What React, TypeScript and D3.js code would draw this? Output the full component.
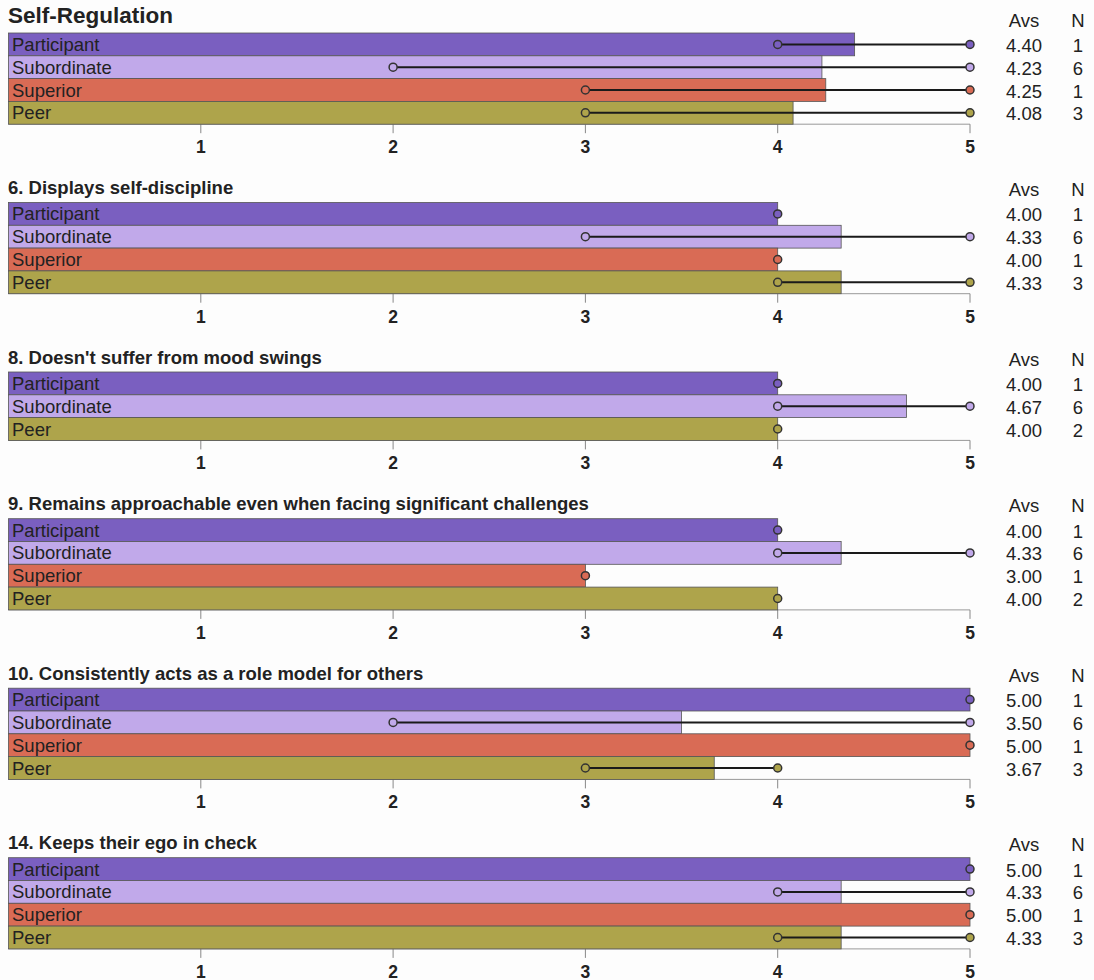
import React from "react";
import * as d3 from "d3";

const panelTitles = [
  "Self-Regulation",
  "6. Displays self-discipline",
  "8. Doesn't suffer from mood swings",
  "9. Remains approachable even when facing significant challenges",
  "10. Consistently acts as a role model for others",
  "14. Keeps their ego in check",
];
const panelGroups = [
  ["Participant", "Subordinate", "Superior", "Peer"],
  ["Participant", "Subordinate", "Superior", "Peer"],
  ["Participant", "Subordinate", "Peer"],
  ["Participant", "Subordinate", "Superior", "Peer"],
  ["Participant", "Subordinate", "Superior", "Peer"],
  ["Participant", "Subordinate", "Superior", "Peer"],
];
const panelAvgs = [
  [4.4, 4.23, 4.25, 4.08],
  [4.0, 4.33, 4.0, 4.33],
  [4.0, 4.67, 4.0],
  [4.0, 4.33, 3.0, 4.0],
  [5.0, 3.5, 5.0, 3.67],
  [5.0, 4.33, 5.0, 4.33],
];
const panelN = [
  [1, 6, 1, 3],
  [1, 6, 1, 3],
  [1, 6, 2],
  [1, 6, 1, 2],
  [1, 6, 1, 3],
  [1, 6, 1, 3],
];
const panelMin = [
  [4, 2, 3, 3],
  [4, 3, 4, 4],
  [4, 4, 4],
  [4, 4, 3, 4],
  [5, 2, 5, 3],
  [5, 4, 5, 4],
];
const panelMax = [
  [5, 5, 5, 5],
  [4, 5, 4, 5],
  [4, 5, 4],
  [4, 5, 3, 4],
  [5, 5, 5, 4],
  [5, 5, 5, 5],
];
const ticks = [1, 2, 3, 4, 5];

const colors: Record<string, string> = {
  Participant: "#7a5fc0",
  Subordinate: "#c1a9ea",
  Superior: "#d96b55",
  Peer: "#aea44b",
};

const W = 1094;
const H = 980;
const ROW = 22.8;
const GAP = 78.3;
const FIRST_TOP = 33;
const FONT = "Arial, 'Liberation Sans', Helvetica, sans-serif";

export default function App() {
  const x = d3.scaleLinear().domain([0, 5]).range([8.5, 970]);
  const tops: number[] = [];
  let t = FIRST_TOP;
  panelGroups.forEach((g) => {
    tops.push(t);
    t += g.length * ROW + GAP;
  });

  return (
    <svg
      width={W}
      height={H}
      style={{ position: "absolute", left: 0, top: 0, background: "#fff" }}
      fontFamily={FONT}
    >
      <rect x={0} y={0} width={W} height={H} fill="#fdfdfd" />
      {panelGroups.map((groups, pi) => {
        const top = tops[pi];
        const y = d3
          .scaleBand<string>()
          .domain(groups)
          .range([top, top + groups.length * ROW])
          .padding(0);
        const bottom = top + groups.length * ROW;
        return (
          <g key={pi}>
            <text
              x={8}
              y={pi === 0 ? top - 10 : top - 8.5}
              fontSize={pi === 0 ? 22.5 : 18.5}
              fontWeight="bold"
              fill="#222"
            >
              {panelTitles[pi]}
            </text>
            <text x={1024} y={top - 6.5} fontSize={18.5} textAnchor="middle" fill="#222">
              Avs
            </text>
            <text x={1078} y={top - 6.5} fontSize={18.5} textAnchor="middle" fill="#222">
              N
            </text>
            <line x1={x(0)} x2={x(5)} y1={bottom} y2={bottom} stroke="#999" strokeWidth={1} />
            {ticks.map((tk) => (
              <g key={tk}>
                <line x1={x(tk)} x2={x(tk)} y1={bottom} y2={bottom + 9} stroke="#888" strokeWidth={1} />
                <text
                  x={x(tk)}
                  y={bottom + 29}
                  fontSize={17.5}
                  fontWeight="bold"
                  textAnchor="middle"
                  fill="#222"
                >
                  {tk}
                </text>
              </g>
            ))}
            {groups.map((g, i) => {
              const yy = y(g)!;
              const cy = yy + y.bandwidth() / 2;
              const mn = panelMin[pi][i];
              const mx = panelMax[pi][i];
              return (
                <g key={g}>
                  <rect
                    x={x(0)}
                    y={yy}
                    width={x(panelAvgs[pi][i]) - x(0)}
                    height={y.bandwidth()}
                    fill={colors[g]}
                    stroke="#555"
                    strokeWidth={0.8}
                  />
                  <text x={12} y={cy + 6.5} fontSize={18.5} fill="#222">
                    {g}
                  </text>
                  {mx > mn && (
                    <line x1={x(mn)} x2={x(mx)} y1={cy} y2={cy} stroke="#1a1a1a" strokeWidth={2} />
                  )}
                  <circle cx={x(mn)} cy={cy} r={4} fill={colors[g]} stroke="#333" strokeWidth={1.5} />
                  {mx > mn && (
                    <circle cx={x(mx)} cy={cy} r={4} fill={colors[g]} stroke="#333" strokeWidth={1.5} />
                  )}
                  <text x={1024} y={cy + 7.5} fontSize={18.5} textAnchor="middle" fill="#222">
                    {panelAvgs[pi][i].toFixed(2)}
                  </text>
                  <text x={1078} y={cy + 7.5} fontSize={18.5} textAnchor="middle" fill="#222">
                    {panelN[pi][i]}
                  </text>
                </g>
              );
            })}
          </g>
        );
      })}
    </svg>
  );
}
